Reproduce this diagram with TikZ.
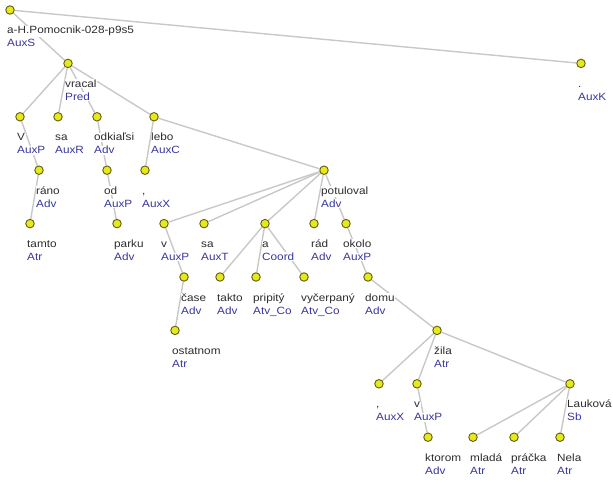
\documentclass[tikz,border=0pt]{standalone}
\usepackage{fontspec}
\setmainfont{Liberation Sans}[FakeStretch=1.12]
\usetikzlibrary{backgrounds}
\definecolor{NodeYellow}{RGB}{232,232,30}
\definecolor{NodeRim}{RGB}{95,95,10}
\definecolor{EdgeGray}{RGB}{200,200,200}
\definecolor{RoleBlue}{RGB}{55,55,160}
\definecolor{WordGray}{RGB}{45,45,45}

\begin{document}
\begin{tikzpicture}[x=1pt,y=-1pt]
  \tikzset{VertexStyle/.style = {
    shape         = circle,
    draw          = NodeRim,
    fill          = NodeYellow,
    line width    = 0.9pt,
    inner sep     = 0pt,
    minimum size  = 8.5pt
    }
  }
  \tikzset{EdgeStyle/.style = {
    draw          = EdgeGray,
    line width    = 1.4pt
    }
  }
  \tikzset{WordStyle/.style = {
    anchor        = base west,
    fill          = white,
    inner sep     = 0.6pt,
    text          = WordGray,
    font          = \fontsize{10.5}{13}\selectfont,
    xshift        = -3.6pt,
    yshift        = -24pt
    }
  }
  % shifts add up: the role sits one line under the word
  \tikzset{RoleStyle/.style = {
    WordStyle,
    text          = RoleBlue,
    yshift        = -13pt
    }
  }
  \useasboundingbox (0,0) rectangle (613,481);

	\node[VertexStyle](A1) at (10, 10) {};
	\node[VertexStyle](B1) at (68, 63.4) {};
	\node[VertexStyle](B2) at (581, 63.4) {};
	\node[VertexStyle](C1) at (20, 116.8) {};
	\node[VertexStyle](C2) at (58, 116.8) {};
	\node[VertexStyle](C3) at (97, 116.8) {};
	\node[VertexStyle](C4) at (154, 116.8) {};
	\node[VertexStyle](D1) at (39, 170.2) {};
	\node[VertexStyle](D2) at (107, 170.2) {};
	\node[VertexStyle](D3) at (145, 170.2) {};
	\node[VertexStyle](D4) at (324, 170.2) {};
	\node[VertexStyle](E1) at (30, 223.6) {};
	\node[VertexStyle](E2) at (117, 223.6) {};
	\node[VertexStyle](E3) at (164, 223.6) {};
	\node[VertexStyle](E4) at (204, 223.6) {};
	\node[VertexStyle](E5) at (265, 223.6) {};
	\node[VertexStyle](E6) at (314, 223.6) {};
	\node[VertexStyle](E7) at (346, 223.6) {};
	\node[VertexStyle](F1) at (184, 277) {};
	\node[VertexStyle](F2) at (220, 277) {};
	\node[VertexStyle](F3) at (256, 277) {};
	\node[VertexStyle](F4) at (304, 277) {};
	\node[VertexStyle](F5) at (368, 277) {};
	\node[VertexStyle](G1) at (175, 330.4) {};
	\node[VertexStyle](G2) at (437, 330.4) {};
	\node[VertexStyle](H1) at (379, 383.8) {};
	\node[VertexStyle](H2) at (417, 383.8) {};
	\node[VertexStyle](H3) at (570, 383.8) {};
	\node[VertexStyle](I1) at (428, 437.2) {};
	\node[VertexStyle](I2) at (473, 437.2) {};
	\node[VertexStyle](I3) at (514, 437.2) {};
	\node[VertexStyle](I4) at (560, 437.2) {};

	\begin{pgfonlayer}{background}
	\draw[EdgeStyle](A1) to (B1);
	\draw[EdgeStyle](A1) to (B2);
	\draw[EdgeStyle](B1) to (C1);
	\draw[EdgeStyle](B1) to (C2);
	\draw[EdgeStyle](B1) to (C3);
	\draw[EdgeStyle](B1) to (C4);
	\draw[EdgeStyle](C1) to (D1);
	\draw[EdgeStyle](C3) to (D2);
	\draw[EdgeStyle](C4) to (D3);
	\draw[EdgeStyle](C4) to (D4);
	\draw[EdgeStyle](D1) to (E1);
	\draw[EdgeStyle](D2) to (E2);
	\draw[EdgeStyle](D4) to (E3);
	\draw[EdgeStyle](D4) to (E4);
	\draw[EdgeStyle](D4) to (E5);
	\draw[EdgeStyle](D4) to (E6);
	\draw[EdgeStyle](D4) to (E7);
	\draw[EdgeStyle](E3) to (F1);
	\draw[EdgeStyle](E5) to (F2);
	\draw[EdgeStyle](E5) to (F3);
	\draw[EdgeStyle](E5) to (F4);
	\draw[EdgeStyle](E7) to (F5);
	\draw[EdgeStyle](F1) to (G1);
	\draw[EdgeStyle](F5) to (G2);
	\draw[EdgeStyle](G2) to (H1);
	\draw[EdgeStyle](G2) to (H2);
	\draw[EdgeStyle](G2) to (H3);
	\draw[EdgeStyle](H2) to (I1);
	\draw[EdgeStyle](H3) to (I2);
	\draw[EdgeStyle](H3) to (I3);
	\draw[EdgeStyle](H3) to (I4);
	\end{pgfonlayer}

	% word and function below each vertex
	\node[WordStyle](A1w) at (A1) {a-H.Pomocnik-028-p9s5};
	\node[RoleStyle](A1r) at (A1) {AuxS};
	\node[WordStyle](B1w) at (B1) {vracal};
	\node[RoleStyle](B1r) at (B1) {Pred};
	\node[WordStyle](B2w) at (B2) {.};
	\node[RoleStyle](B2r) at (B2) {AuxK};
	\node[WordStyle](C1w) at (C1) {V};
	\node[RoleStyle](C1r) at (C1) {AuxP};
	\node[WordStyle](C2w) at (C2) {sa};
	\node[RoleStyle](C2r) at (C2) {AuxR};
	\node[WordStyle](C3w) at (C3) {odkiaľsi};
	\node[RoleStyle](C3r) at (C3) {Adv};
	\node[WordStyle](C4w) at (C4) {lebo};
	\node[RoleStyle](C4r) at (C4) {AuxC};
	\node[WordStyle](D1w) at (D1) {ráno};
	\node[RoleStyle](D1r) at (D1) {Adv};
	\node[WordStyle](D2w) at (D2) {od};
	\node[RoleStyle](D2r) at (D2) {AuxP};
	\node[WordStyle](D3w) at (D3) {,};
	\node[RoleStyle](D3r) at (D3) {AuxX};
	\node[WordStyle](D4w) at (D4) {potuloval};
	\node[RoleStyle](D4r) at (D4) {Adv};
	\node[WordStyle](E1w) at (E1) {tamto};
	\node[RoleStyle](E1r) at (E1) {Atr};
	\node[WordStyle](E2w) at (E2) {parku};
	\node[RoleStyle](E2r) at (E2) {Adv};
	\node[WordStyle](E3w) at (E3) {v};
	\node[RoleStyle](E3r) at (E3) {AuxP};
	\node[WordStyle](E4w) at (E4) {sa};
	\node[RoleStyle](E4r) at (E4) {AuxT};
	\node[WordStyle](E5w) at (E5) {a};
	\node[RoleStyle](E5r) at (E5) {Coord};
	\node[WordStyle](E6w) at (E6) {rád};
	\node[RoleStyle](E6r) at (E6) {Adv};
	\node[WordStyle](E7w) at (E7) {okolo};
	\node[RoleStyle](E7r) at (E7) {AuxP};
	\node[WordStyle](F1w) at (F1) {čase};
	\node[RoleStyle](F1r) at (F1) {Adv};
	\node[WordStyle](F2w) at (F2) {takto};
	\node[RoleStyle](F2r) at (F2) {Adv};
	\node[WordStyle](F3w) at (F3) {pripitý};
	\node[RoleStyle](F3r) at (F3) {Atv\_Co};
	\node[WordStyle](F4w) at (F4) {vyčerpaný};
	\node[RoleStyle](F4r) at (F4) {Atv\_Co};
	\node[WordStyle](F5w) at (F5) {domu};
	\node[RoleStyle](F5r) at (F5) {Adv};
	\node[WordStyle](G1w) at (G1) {ostatnom};
	\node[RoleStyle](G1r) at (G1) {Atr};
	\node[WordStyle](G2w) at (G2) {žila};
	\node[RoleStyle](G2r) at (G2) {Atr};
	\node[WordStyle](H1w) at (H1) {,};
	\node[RoleStyle](H1r) at (H1) {AuxX};
	\node[WordStyle](H2w) at (H2) {v};
	\node[RoleStyle](H2r) at (H2) {AuxP};
	\node[WordStyle](H3w) at (H3) {Lauková};
	\node[RoleStyle](H3r) at (H3) {Sb};
	\node[WordStyle](I1w) at (I1) {ktorom};
	\node[RoleStyle](I1r) at (I1) {Adv};
	\node[WordStyle](I2w) at (I2) {mladá};
	\node[RoleStyle](I2r) at (I2) {Atr};
	\node[WordStyle](I3w) at (I3) {práčka};
	\node[RoleStyle](I3r) at (I3) {Atr};
	\node[WordStyle](I4w) at (I4) {Nela};
	\node[RoleStyle](I4r) at (I4) {Atr};

\end{tikzpicture}
\end{document}
